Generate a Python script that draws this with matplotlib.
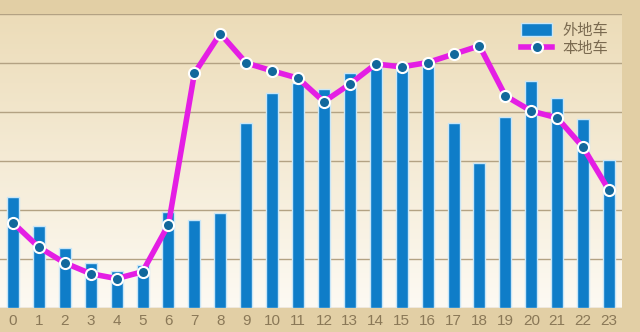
import numpy as np
from matplotlib import pyplot as plt

hours = [str(h) for h in range(24)]
waidi = [226, 167, 123, 92, 76, 88, 196, 180, 194, 377, 439, 459,
         447, 480, 500, 494, 502, 377, 296, 390, 463, 428, 386, 302]
bendi = [174, 124, 92, 70, 60, 74, 170, 479, 560, 500, 484, 469,
         421, 457, 498, 492, 501, 518, 535, 433, 402, 388, 328, 240]

plt.rcParams['font.family'] = ['Liberation Sans', 'Noto Sans CJK SC', 'DejaVu Sans']

fig = plt.figure(figsize=(6.4, 3.32), dpi=100, facecolor='#e2cfa5')
ax = fig.add_axes([0, 24 / 332, 622 / 640, 294 / 332])

# background gradient of plot area
grad = np.linspace(0, 1, 256).reshape(-1, 1)
top = np.array([236, 220, 184]) / 255
bot = np.array([253, 250, 243]) / 255
img = top * (1 - grad)[..., None] + bot * grad[..., None]
img = img.reshape(256, 1, 3)
ax.imshow(img, extent=[0, 1, 0, 1], transform=ax.transAxes, aspect='auto', zorder=0)

x = np.arange(len(hours))
bars = ax.bar(x, waidi, width=0.46, color='#0f7dc8', edgecolor='#c8e6f8', linewidth=1,
              zorder=2, label='外地车')
line, = ax.plot(x, bendi, color='#e41ee4', linewidth=4, marker='o', markersize=8,
                markerfacecolor='#12689c', markeredgecolor='white', markeredgewidth=1.5,
                zorder=3, label='本地车')

ax.set_xlim(-0.5, 23.5)
ax.set_ylim(0, 600)
ax.set_yticks(np.arange(0, 601, 100))
ax.set_yticklabels([])
ax.yaxis.grid(True, color='#b3a283', linewidth=1, zorder=1)
ax.set_axisbelow(True)
ax.set_xticks(x)
ax.set_xticklabels(hours, fontsize=11, color='#8a7857')
ax.tick_params(length=0, pad=4)
for s in ax.spines.values():
    s.set_visible(False)

leg = ax.legend([bars, line], ['外地车', '本地车'], loc='upper right',
                bbox_to_anchor=(1.0, 1.02), frameon=False,
                handlelength=2.0, handleheight=1.0, labelspacing=0.1,
                handletextpad=0.7,
                prop={'family': ['Noto Sans CJK SC'], 'size': 11})
for t in leg.get_texts():
    t.set_color('#7a6a50')

fig.savefig('out.png', dpi=100, facecolor=fig.get_facecolor())
